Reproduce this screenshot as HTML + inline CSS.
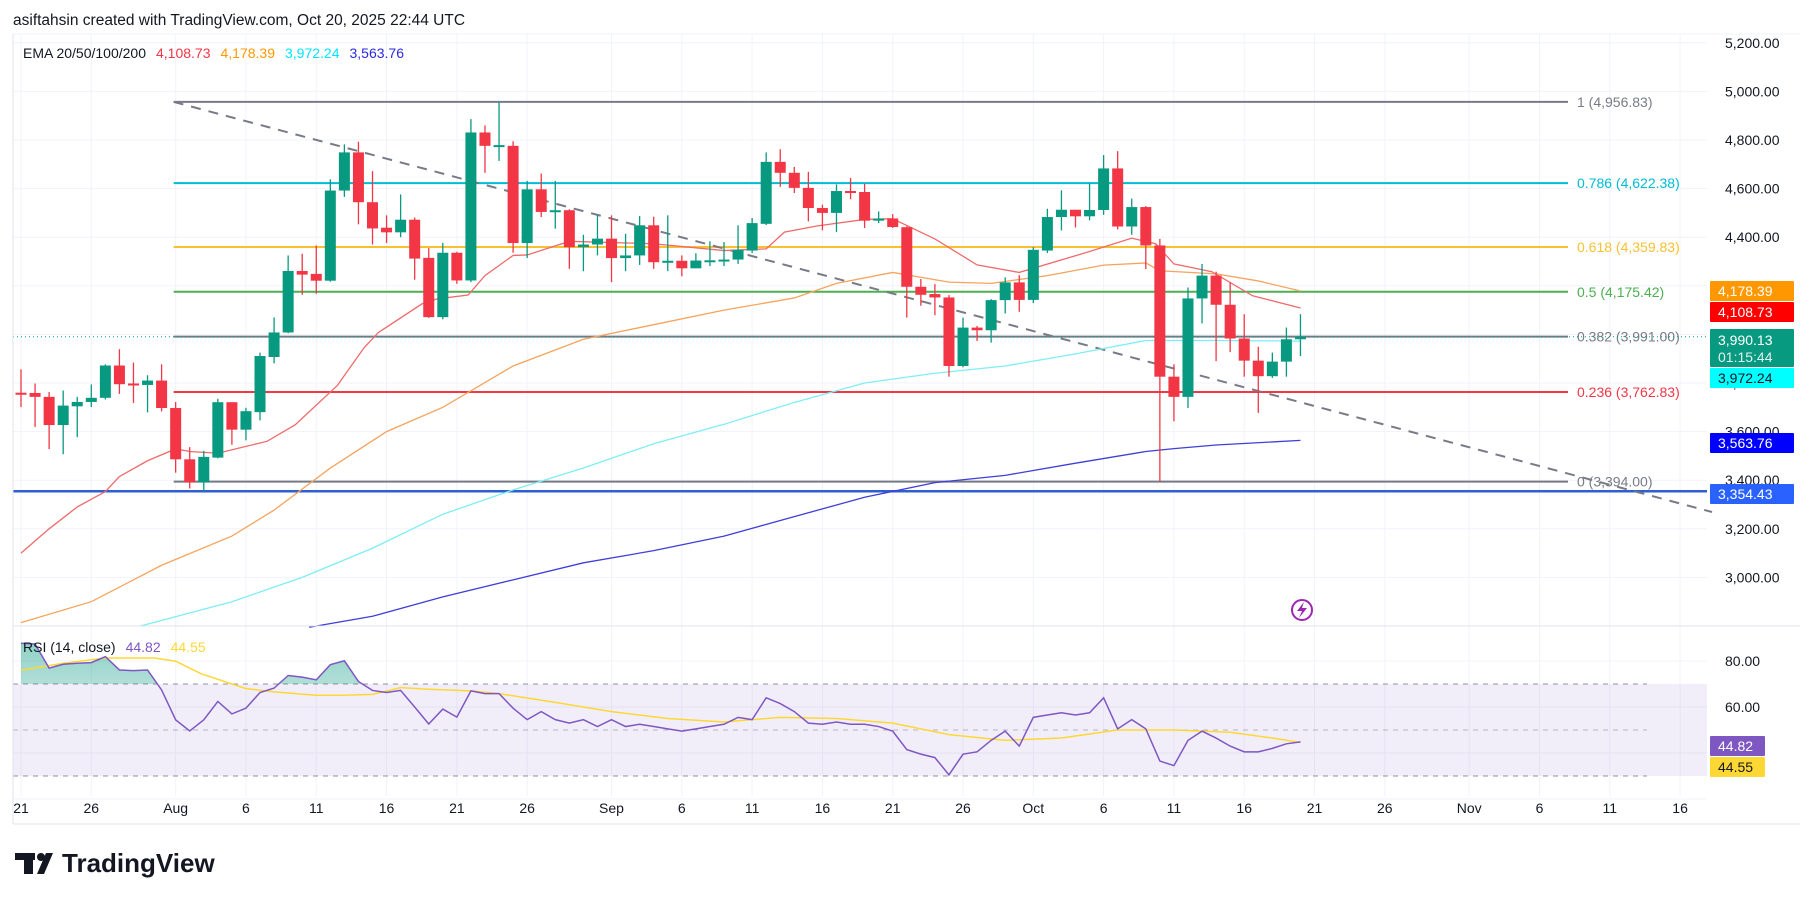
<!DOCTYPE html>
<html><head><meta charset="utf-8">
<style>
html,body{margin:0;padding:0;background:#fff;}
svg{display:block;font-family:"Liberation Sans",sans-serif;}
</style></head>
<body>
<svg id="chart" width="1814" height="900" viewBox="0 0 1814 900" xmlns="http://www.w3.org/2000/svg">
<defs>
<linearGradient id="rsiGreen" x1="0" y1="0" x2="0" y2="1">
<stop offset="0" stop-color="#089981" stop-opacity="0.45"/>
<stop offset="1" stop-color="#089981" stop-opacity="0.02"/>
</linearGradient>
<clipPath id="above70"><rect x="13" y="626" width="1694" height="58"/></clipPath>
</defs>
<g id="grid"></g>
<g id="rsiPane"></g>
<g id="fib"></g>
<g id="emas"></g>
<g id="candles"></g>
<g id="axes"></g>
<text x="13" y="25" font-size="15.5" fill="#131722">asiftahsin created with TradingView.com, Oct 20, 2025 22:44 UTC</text>
<text x="23" y="58" font-size="14"><tspan fill="#131722">EMA 20/50/100/200</tspan><tspan fill="#f23645" dx="10">4,108.73</tspan><tspan fill="#ff9800" dx="10">4,178.39</tspan><tspan fill="#00e5ff" dx="10">3,972.24</tspan><tspan fill="#2a2ae0" dx="10">3,563.76</tspan></text>
<text x="23" y="652" font-size="14"><tspan fill="#131722">RSI (14, close)</tspan><tspan fill="#7e57c2" dx="10">44.82</tspan><tspan fill="#fdd835" dx="10">44.55</tspan></text>
<g>
<circle cx="1302" cy="610" r="10" fill="none" stroke="#9c27b0" stroke-width="2"/>
<path d="M1304 602 L1297 611 L1302 611 L1299 618 L1307 608 L1302 608 Z" fill="#9c27b0"/>
</g>
<g>
<rect x="15" y="853" width="20" height="7" fill="#131722"/>
<rect x="24" y="853" width="9" height="21" fill="#131722"/>
<circle cx="41" cy="857" r="4" fill="#131722"/>
<path d="M46 853 L53 853 L44 874 L37 874 Z" fill="#131722"/>
<text x="62" y="872" font-size="26" font-weight="bold" fill="#131722">TradingView</text>
</g>
</svg>
<script>
// ---- data ----
const opens=[3760,3759,3743,3627,3704,3722,3739,3872,3798,3792,3810,3697,3486,3391,3493,3721,3608,3680,3907,4008,4261,4249,4221,4592,4749,4544,4439,4420,4472,4315,4071,4336,4222,4831,4776,4776,4376,4597,4504,4511,4359,4370,4394,4314,4325,4449,4300,4303,4272,4304,4305,4308,4345,4455,4710,4665,4603,4520,4500,4590,4586,4468,4477,4441,4196,4166,4152,3870,4028,4017,4141,4214,4142,4345,4483,4513,4486,4512,4683,4444,4524,4366,3826,3743,4148,4242,4122,3983,3892,3828,3888,3980];
const highs=[3856,3798,3763,3769,3743,3794,3877,3939,3884,3832,3877,3722,3536,3521,3735,3721,3698,3925,4070,4325,4332,4366,4638,4782,4793,4672,4490,4576,4481,4355,4377,4340,4886,4860,4956,4795,4632,4662,4632,4515,4410,4493,4490,4414,4487,4484,4490,4325,4334,4383,4380,4449,4479,4749,4762,4689,4669,4534,4617,4644,4620,4506,4495,4445,4228,4207,4162,4069,4035,4145,4235,4244,4359,4517,4593,4513,4621,4738,4754,4559,4528,4393,3877,4193,4290,4258,4214,4083,3949,3925,4028,4083];
const lows=[3701,3619,3528,3507,3577,3701,3732,3755,3718,3679,3683,3431,3366,3353,3490,3546,3564,3646,3881,4005,4163,4167,4217,4566,4453,4370,4376,4400,4225,4068,4062,4208,4215,4665,4714,4336,4314,4483,4435,4270,4260,4325,4215,4260,4286,4270,4260,4239,4272,4281,4281,4290,4335,4450,4607,4582,4465,4428,4421,4556,4438,4458,4438,4069,4118,4079,3826,3865,3973,3966,4086,4093,4129,4335,4428,4440,4469,4492,4432,4410,4269,3394,3642,3697,4045,3890,3927,3826,3677,3821,3826,3911];
const closes=[3755,3743,3627,3707,3722,3739,3872,3795,3792,3810,3697,3486,3391,3496,3721,3608,3684,3911,4008,4261,4246,4221,4592,4749,4544,4436,4420,4472,4312,4071,4336,4222,4831,4776,4779,4376,4597,4504,4511,4359,4370,4394,4314,4325,4449,4297,4303,4272,4304,4305,4308,4348,4458,4710,4665,4603,4520,4500,4590,4589,4468,4477,4442,4196,4163,4152,3870,4028,4017,4141,4214,4142,4348,4483,4513,4486,4512,4683,4444,4524,4366,3826,3743,4148,4242,4122,3983,3892,3828,3888,3980,3990.13];

const ema20Days=[0,2,4,6,7,9,11,12,14,16,17.5,19.5,22.5,24.4,25.4,28.5,29.6,31.8,33,35,36,39,45,50,53,54.3,56.6,60,62,65,68,71,76,79,80.7,82,84.7,87.6,91];
const ema20Vals=[3100,3200,3290,3353,3415,3480,3529,3518,3511,3539,3560,3628,3790,3945,4007,4125,4146,4162,4242,4325,4327,4383,4373,4345,4352,4421,4446,4473,4476,4393,4286,4255,4341,4396,4373,4290,4258,4159,4108.73];
const ema50Days=[0,5,10,15,18,22,26,30,35,40,45,50,55,58,62,66,69,73,77,80,81,85,88,91];
const ema50Vals=[2814,2900,3050,3170,3277,3450,3600,3700,3870,3980,4040,4100,4150,4210,4255,4215,4210,4242,4285,4294,4262,4249,4220,4178.39];
const ema100Days=[8.5,15,20,25,30,35,40,45,50,55,60,65,70,75,80,85,91];
const ema100Vals=[2800,2900,3000,3120,3260,3360,3450,3550,3630,3720,3800,3840,3870,3920,3975,3975,3972.24];
const ema200Days=[20.5,25,30,35,40,45,50,55,60,65,70,75,80,82,85,91];
const ema200Vals=[2795,2840,2920,2990,3060,3110,3170,3250,3330,3390,3420,3470,3518,3530,3545,3563.76];

const rsiDays=[0,1,2,3,4,5,6,7,8,9,10,11,12,13,14,15,16,17,18,19,20,21,22,23,24,25,26,27,28,29,30,31,32,33,34,35,36,37,38,39,40,41,42,43,44,45,46,47,48,49,50,51,52,53,54,55,56,57,58,59,60,61,62,63,64,65,66,67,68,69,70,71,72,73,74,75,76,77,78,79,80,81,82,83,84,85,86,87,88,89,90,91];
const rsiVals=[87.7,87.4,76.9,78.6,79,79.3,81.9,76.1,75.8,76.1,67.4,54.4,49.6,54.4,62.4,57,59.5,66.3,68.2,73.7,73,71.8,78.4,80.1,71.1,67.2,66.3,67.2,60,52.6,59.1,55.6,67,65.8,65.8,59.5,54.5,58,54.5,53,54.5,51.5,54.5,51.5,52.5,51.5,50.5,49.5,50.5,51.5,52.5,55.5,54.5,64,61.5,58,53,52.5,53.5,52.5,52.5,51.5,49.5,41.5,39.5,38,30.5,39.5,40.5,45.5,49.5,43,55.5,56.5,57.5,56.5,57.5,64,50.5,54.5,50.5,36.5,34.5,45.5,49.5,46.5,43,40.5,40.5,42,44,44.82];
const sigDays=[0,3,6,9.5,11,12.8,16,18,21,23,25,27,29,32,34,38,42,46,50,54,58,62,66,70,74,78,82,86,89,91];
const sigVals=[76,79,81.3,81.3,79.9,74.5,68,66.6,65.1,65.1,65.5,68.4,67.7,67,65.8,62,58,55,53.5,55.5,55,53,48,45.5,46.5,50,50,49,46.5,44.55];

const priceTicks=[3000,3200,3400,3600,3800,4000,4200,4400,4600,4800,5000,5200];
const priceTickLabels=["3,000.00","3,200.00","3,400.00","3,600.00","3,800.00","4,000.00","4,200.00","4,400.00","4,600.00","4,800.00","5,000.00","5,200.00"];
const rsiTicks=[80,60,40,20];
const rsiTickLabels=["80.00","60.00","",""];
const dateTickDays=[0,5,11,16,21,26,31,36,42,47,52,57,62,67,72,77,82,87,92,97,103,108,113,118];
const dateTickLabels=["21","26","Aug","6","11","16","21","26","Sep","6","11","16","21","26","Oct","6","11","16","21","26","Nov","6","11","16"];

const fibRatios=["1","0.786","0.618","0.5","0.382","0.236","0"];
const fibPrices=[4956.83,4622.38,4359.83,4175.42,3991.00,3762.83,3394.00];
const fibLabels=["(4,956.83)","(4,622.38)","(4,359.83)","(4,175.42)","(3,991.00)","(3,762.83)","(3,394.00)"];
const fibColors=["#787b86","#00bcd4","#f7c130","#4caf50","#787b86","#f23645","#787b86"];

// ---- scales ----
const X0=21, DX=14.06;
function xOf(d){return X0+d*DX;}
function yP(p){return 42.8+(5200-p)*0.243;}
function yR(v){return 661+(80-v)*2.3;}
const NS="http://www.w3.org/2000/svg";
function mk(tag,attrs,parent){const e=document.createElementNS(NS,tag);for(const k in attrs)e.setAttribute(k,attrs[k]);parent.appendChild(e);return e;}
const grid=document.getElementById('grid'),axes=document.getElementById('axes'),fib=document.getElementById('fib'),emas=document.getElementById('emas'),cg=document.getElementById('candles'),rp=document.getElementById('rsiPane');
const PR=1707;

// grid
dateTickDays.forEach((d,i)=>{
  const l=mk('line',{x1:xOf(d),x2:xOf(d),y1:34,y2:796,stroke:'#f0f3fa','stroke-width':1},grid);
  
  
  const t=mk('text',{x:xOf(d),y:813,'font-size':14,'text-anchor':'middle',fill:'#131722'},axes);
  t.textContent=dateTickLabels[i];
  
  
});
priceTicks.forEach((p,i)=>{
  const l=mk('line',{x1:13,x2:PR,y1:yP(p),y2:yP(p),stroke:'#f0f3fa','stroke-width':1},grid);
  
  
  const t=mk('text',{x:1725,y:yP(p)+5,'font-size':14,fill:'#131722'},axes);
  t.textContent=priceTickLabels[i];
  
  
});
rsiTicks.forEach((v,i)=>{
  const l=mk('line',{x1:13,x2:PR,y1:yR(v),y2:yR(v),stroke:'#f0f3fa','stroke-width':1},grid);
  
  
  if(rsiTickLabels[i]){
    const t=mk('text',{x:1725,y:yR(v)+5,'font-size':14,fill:'#131722'},axes);
    t.textContent=rsiTickLabels[i];
    
    
  }
});
// frame
let fr=mk('line',{x1:13,x2:1800,y1:626,y2:626,stroke:'#e0e3eb','stroke-width':1},axes);


fr=mk('line',{x1:13,x2:1800,y1:824,y2:824,stroke:'#e0e3eb','stroke-width':1},axes);


fr=mk('line',{x1:13,x2:13,y1:34,y2:824,stroke:'#e0e3eb','stroke-width':1},axes);


fr=mk('line',{x1:13,x2:1800,y1:34,y2:34,stroke:'#f0f3fa','stroke-width':1},axes);



// RSI pane
let band=mk('rect',{x:13,y:yR(70),width:PR-13,height:yR(30)-yR(70),fill:'rgba(126,87,194,0.1)'},rp);


[70,50,30].forEach(v=>{
  const l=mk('line',{x1:13,x2:PR-60,y1:yR(v),y2:yR(v),stroke:'#787b86','stroke-width':1,'stroke-dasharray':'5,5',opacity:v===50?0.5:0.8},rp);
  
  
});
let rpts=rsiDays.map((d,i)=>xOf(d)+','+yR(rsiVals[i]));
let area=mk('polygon',{points:xOf(rsiDays[0])+','+yR(70)+' '+rpts.join(' ')+' '+xOf(rsiDays[rsiDays.length-1])+','+yR(70),fill:'url(#rsiGreen)','clip-path':'url(#above70)'},rp);


let sl=mk('polyline',{points:sigDays.map((d,i)=>xOf(d)+','+yR(sigVals[i])).join(' '),fill:'none',stroke:'#fdd835','stroke-width':1.5},rp);


let rl=mk('polyline',{points:rpts.join(' '),fill:'none',stroke:'#7e57c2','stroke-width':1.5},rp);



// fib
const fx1=xOf(11)-2, fx2=1568;
fibPrices.forEach((p,i)=>{
  const l=mk('line',{x1:fx1,x2:fx2,y1:yP(p),y2:yP(p),stroke:fibColors[i],'stroke-width':2},fib);
  
  
  const t=mk('text',{x:1577,y:yP(p)+5,'font-size':14,fill:fibColors[i]},fib);
  t.textContent=fibRatios[i]+' '+fibLabels[i];
  
  
});
let bl=mk('line',{x1:13,x2:PR,y1:yP(3354.43),y2:yP(3354.43),stroke:'#2f5fcf','stroke-width':2.5},fib);


let tl=mk('line',{x1:fx1,y1:yP(4956.83),x2:1712,y2:512,stroke:'#787b86','stroke-width':2,'stroke-dasharray':'10,8'},fib);


let pl=mk('line',{x1:13,x2:PR,y1:yP(3990.13),y2:yP(3990.13),stroke:'#089981','stroke-width':1,'stroke-dasharray':'1,3'},fib);



// EMAs
function emaLine(days,vals,color,name){
  const e=mk('polyline',{points:days.map((d,i)=>xOf(d)+','+yP(vals[i])).join(' '),fill:'none',stroke:color,'stroke-width':1.3},emas);
  
  
}
emaLine(ema200Days,ema200Vals,'#3f3fd6','ema-200');
emaLine(ema100Days,ema100Vals,'#7deef5','ema-100');
emaLine(ema50Days,ema50Vals,'#f7a35c','ema-50');
emaLine(ema20Days,ema20Vals,'#ef6b6b','ema-20');

// candles
opens.forEach((o,i)=>{
  const c=closes[i],up=c>=o,col=up?'#089981':'#f23645',x=xOf(i);
  const w=mk('line',{x1:x,x2:x,y1:yP(highs[i]),y2:yP(lows[i]),stroke:col,'stroke-width':1.3},cg);
  
  
  const top=yP(Math.max(o,c)),h=Math.max(2,yP(Math.min(o,c))-top);
  const b=mk('rect',{x:x-5.5,y:top,width:11,height:h,fill:col},cg);
  
  
});

// price tags
const tags=[["4,178.39","#ff9800","#fff",281],["4,108.73","#ff0000","#fff",302],["3,972.24","#00ffff","#131722",368],["3,563.76","#0000ff","#fff",433],["3,354.43","#2962ff","#fff",484],["44.82","#7e57c2","#fff",736],["44.55","#fdd835","#131722",757]];
tags.forEach(t=>{
  const w=t[0].length>5?84:55;
  const r=mk('rect',{x:1710,y:t[3],width:w,height:20,fill:t[1],rx:1},axes);
  
  
  const tx=mk('text',{x:1718,y:t[3]+15,'font-size':14,fill:t[2]},axes);
  tx.textContent=t[0];
  
  
});
let lr=mk('rect',{x:1710,y:329,width:84,height:38,fill:'#089981',rx:1},axes);


let lt=mk('text',{x:1718,y:345,'font-size':14,fill:'#fff'},axes);
lt.textContent='3,990.13';


lt=mk('text',{x:1718,y:362,'font-size':14,fill:'#e0f2ef'},axes);
lt.textContent='01:15:44';


</script>
</body></html>
